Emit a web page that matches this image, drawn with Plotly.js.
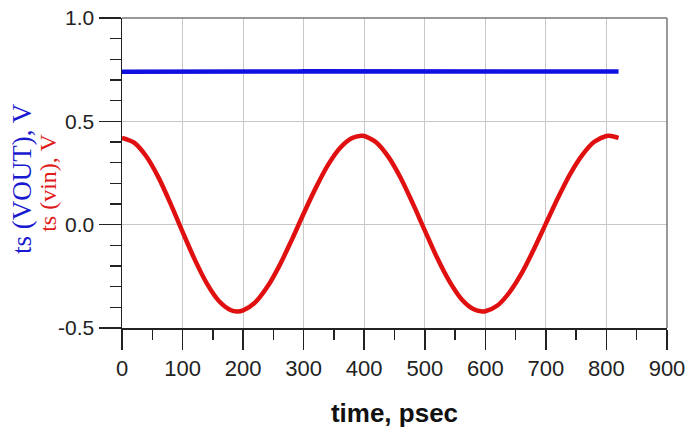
<!DOCTYPE html>
<html>
<head>
<meta charset="utf-8">
<script src="https://cdn.plot.ly/plotly-3.0.1.min.js"></script>
<style>html,body{margin:0;padding:0;background:#fff;}#chart{width:692px;height:436px;}</style>
</head>
<body>
<div id="chart"></div>
<script>
const timeVin = [0,20,40,60,80,100,120,140,160,180,190,200,220,240,260,280,300,320,340,360,380,395,400,420,440,460,480,500,520,540,560,580,595,600,620,640,660,680,700,720,740,760,780,800,805,820];
const vin = [0.42,0.397,0.331,0.230,0.103,-0.035,-0.168,-0.284,-0.369,-0.414,-0.42,-0.415,-0.376,-0.301,-0.198,-0.076,0.054,0.178,0.288,0.371,0.419,0.43,0.429,0.398,0.328,0.227,0.104,-0.028,-0.158,-0.271,-0.358,-0.408,-0.42,-0.419,-0.391,-0.327,-0.235,-0.120,0.005,0.130,0.245,0.337,0.401,0.429,0.43,0.42];
const timeVout = [0,15,20,80,90,100,180,200,210,280,290,300,380,400,410,460,470,490,570,580,600,680,690,700,760,770,820];
const vout = [0.740,0.740,0.736,0.736,0.740,0.741,0.741,0.741,0.737,0.737,0.741,0.742,0.742,0.742,0.737,0.737,0.741,0.741,0.741,0.737,0.737,0.737,0.741,0.741,0.741,0.741,0.741];
const xTicks = [0,100,200,300,400,500,600,700,800,900];
const yTicks = [-0.5,0.0,0.5,1.0];
const yTickText = ['-0.5','0.0','0.5','1.0'];

const traces = [
  {x: timeVout, y: vout, mode:'lines', line:{color:'#1010e0', width:4.5}, name:'ts (VOUT)'},
  {x: timeVin, y: vin, mode:'lines', line:{color:'#e01010', width:4.5, shape:'spline', smoothing:0.8}, name:'ts (vin)'}
];

const layout = {
  width:692, height:436,
  margin:{l:122, r:25, t:18, b:108},
  paper_bgcolor:'#fff', plot_bgcolor:'#fff',
  showlegend:false,
  font:{family:'Liberation Sans, Arial, sans-serif', color:'#222'},
  xaxis:{
    range:[0,900], tickvals:xTicks, ticktext:xTicks.map(String),
    ticks:'outside', ticklen:20, tickwidth:1.5, tickcolor:'#222',
    showline:true, linecolor:'#222', linewidth:1.5,
    mirror:false, zeroline:false,
    showgrid:true, gridcolor:'#c8c8c8', gridwidth:1,
    tickfont:{size:22, color:'#222'},
    minor:{dtick:50, tick0:0, ticks:'outside', ticklen:10, tickwidth:1.5, tickcolor:'#222', showgrid:false},
    title:{text:'<b>time, psec</b>', font:{size:26, color:'#111'}, standoff:24}
  },
  yaxis:{
    range:[-0.5,1.0], tickvals:yTicks, ticktext:yTickText,
    ticks:'outside', ticklen:22, tickwidth:1.5, tickcolor:'#222',
    showline:true, linecolor:'#222', linewidth:1.5,
    zeroline:false,
    showgrid:true, gridcolor:'#c8c8c8', gridwidth:1,
    tickfont:{size:21, color:'#222'},
    minor:{dtick:0.1, tick0:0, ticks:'outside', ticklen:11, tickwidth:1.5, tickcolor:'#222', showgrid:false}
  },
  shapes:[
    {type:'line', xref:'paper', yref:'paper', x0:0, x1:1, y0:1, y1:1, line:{color:'#777', width:1.5}},
    {type:'line', xref:'paper', yref:'paper', x0:1, x1:1, y0:0, y1:1, line:{color:'#777', width:1.5}}
  ],
  annotations:[
    {xref:'paper', yref:'paper', x:-0.1835, y:0.484, xanchor:'center', yanchor:'middle', showarrow:false,
     textangle:-90, text:'ts (VOUT), V', font:{family:'Liberation Serif, Times New Roman, serif', size:27, color:'#1a1ad0'}},
    {xref:'paper', yref:'paper', x:-0.136, y:0.468, xanchor:'center', yanchor:'middle', showarrow:false,
     textangle:-90, text:'ts (vin), V', font:{family:'Liberation Serif, Times New Roman, serif', size:24, color:'#e01a1a'}}
  ]
};
Plotly.newPlot('chart', traces, layout, {displayModeBar:false, staticPlot:true});
</script>
</body>
</html>
